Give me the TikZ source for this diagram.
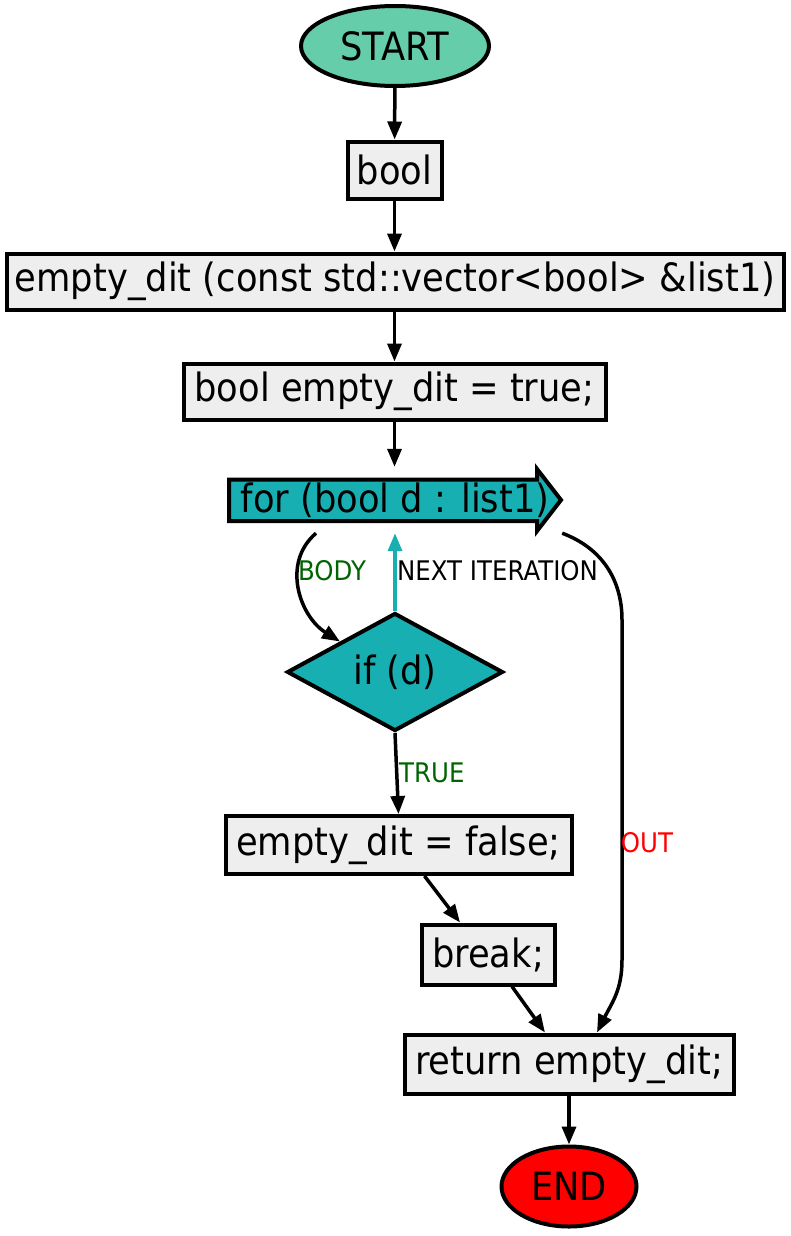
\documentclass[tikz,border=0pt]{standalone}
\usepackage{fontspec}
\setmainfont{DejaVu Sans}[FakeStretch=0.905]
\usetikzlibrary{shapes.geometric,arrows.meta,calc}
\definecolor{boxgray}{HTML}{EEEEEE}
\definecolor{startgreen}{HTML}{66CDAA}
\definecolor{loopteal}{RGB}{23,175,178}
\definecolor{lblgreen}{HTML}{006400}
\newcommand{\bigfont}{\fontsize{39}{46}\selectfont}
\newcommand{\smallfont}{\fontsize{27}{32}\selectfont}
\begin{document}
\begin{tikzpicture}[x=1pt,y=-1pt,
  box/.style={draw, line width=4pt, fill=boxgray, inner sep=0pt, font=\bigfont},
  term/.style={ellipse, draw, line width=4pt, inner sep=0pt, font=\bigfont},
  edge/.style={line width=3.5pt, -{Triangle[length=18pt,width=14pt]}},
  lbl/.style={inner sep=0pt, font=\smallfont}]
\useasboundingbox (0,0) rectangle (790,1236);

\node[term, fill=startgreen, minimum width=188pt, minimum height=80pt] (start) at (395,46) {START};
\node[box, minimum width=94pt, minimum height=57pt] (bool) at (394.5,170) {bool};
\node[box, minimum width=777pt, minimum height=56pt] (sig) at (395,281.5) {empty\_dit (const std::vector<bool> \&list1)};
\node[box, minimum width=422pt, minimum height=56pt] (init) at (394.5,391.5) {bool empty\_dit = true;};

% for-loop arrow shape
\fill[loopteal, draw=black, line width=4pt, line join=miter]
  (229,479.5) -- (537,479.5) -- (537,469) -- (561,500) -- (537,531) -- (537,521) -- (229,521) -- cycle;
\node[inner sep=0pt, minimum width=336pt, minimum height=66pt, font=\bigfont] (for) at (395,500) {for (bool d : list1)};

\node[diamond, shape aspect=2, draw, line width=4pt, fill=loopteal, inner sep=0pt,
      minimum width=216pt, minimum height=118pt, font=\bigfont] (if) at (395,672) {if (d)};
\node[box, minimum width=346pt, minimum height=58pt] (false) at (398.5,845) {empty\_dit = false;};
\node[box, minimum width=133pt, minimum height=60pt] (brk) at (488,954.5) {break;};
\node[box, minimum width=329pt, minimum height=59pt] (ret) at (569,1064) {return empty\_dit;};
\node[term, fill=red, minimum width=135pt, minimum height=80pt] (end) at (569,1186.5) {END};

\coordinate (o1) at (622,620);
\coordinate (o2) at (622,960);

\draw[edge] (start) -- (bool);
\draw[edge] (bool) -- (sig.north -| bool);
\draw[edge] (sig.south -| init) -- (init);
\draw[edge] (init.south) -- (init.south |- for.north);
\draw[edge] ($(for.south)+(-79,0)$) .. controls +(-35,30) and +(-40,-25) .. (if.north west);
\draw[edge, draw=loopteal] (if.north) -- (if.north |- for.south);
\draw[edge] (if.south) -- (false.north);
\draw[edge] ($(false.south)+(26,0)$) -- ($(brk.north)+(-28,0)$);
\draw[edge] ($(brk.south)+(24,0)$) -- ($(ret.north)+(-24,0)$);
\draw[edge] ($(for.south east)+(-1,0)$) .. controls +(40,15) and +(0,-40) .. (o1) -- (o2)
  .. controls +(0,30) and +(15,-30) .. ($(ret.north)+(28,0)$);
\draw[edge] (ret) -- (end);

\node[lbl, text=lblgreen] (lbody) at (332,571) {BODY};
\node[lbl, anchor=west] (lnext) at (397,571) {NEXT ITERATION};
\node[lbl, text=lblgreen, anchor=west] (ltrue) at (399,773) {TRUE};
\node[lbl, text=red] (lout) at (647,843) {OUT};
\end{tikzpicture}
\end{document}
